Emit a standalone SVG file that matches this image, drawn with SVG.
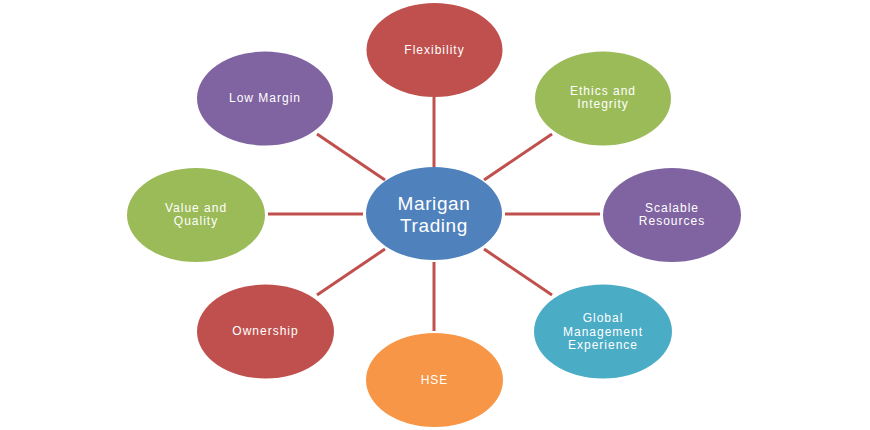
<svg xmlns="http://www.w3.org/2000/svg" width="870" height="430" viewBox="0 0 870 430">
<style>
.bg{fill:#ffffff}
.conn line{stroke:#C0504D;stroke-width:3}
.n text{fill:#ffffff;font-family:"Liberation Sans",Arial,sans-serif;font-size:12px;letter-spacing:1px;text-anchor:middle}
.c text{font-size:19px;letter-spacing:0.6px}
.red{fill:#C0504D}.green{fill:#9BBB59}.purple{fill:#8064A2}.blue{fill:#4F81BD}.cyan{fill:#4BACC6}.orange{fill:#F79646}
</style>
<rect class="bg" x="0" y="0" width="870" height="430"/>
<g id="connectors" class="conn">
<line x1="434" y1="97" x2="434" y2="167"/>
<line x1="484" y1="180" x2="552" y2="134"/>
<line x1="505" y1="214" x2="600" y2="214"/>
<line x1="484" y1="249" x2="552" y2="295"/>
<line x1="434" y1="262" x2="434" y2="331"/>
<line x1="385" y1="249" x2="317" y2="295"/>
<line x1="268" y1="214" x2="363" y2="214"/>
<line x1="385" y1="180" x2="317" y2="134"/>
</g>
<g id="center" class="n c">
<ellipse class="blue" cx="434" cy="213.5" rx="68" ry="46.5"/>
<text x="434" y="210">Marigan</text>
<text x="434" y="232">Trading</text>
</g>
<g id="flexibility" class="n">
<ellipse class="red" cx="434.5" cy="50" rx="68" ry="47"/>
<text x="434.5" y="54">Flexibility</text>
</g>
<g id="ethics" class="n">
<ellipse class="green" cx="603" cy="98.5" rx="68" ry="47"/>
<text x="603" y="95">Ethics and</text>
<text x="603" y="108">Integrity</text>
</g>
<g id="scalable" class="n">
<ellipse class="purple" cx="672" cy="215" rx="69" ry="47"/>
<text x="672" y="212">Scalable</text>
<text x="672" y="225">Resources</text>
</g>
<g id="global" class="n">
<ellipse class="cyan" cx="603" cy="331.5" rx="69" ry="47"/>
<text x="603" y="322">Global</text>
<text x="603" y="335.5">Management</text>
<text x="603" y="349">Experience</text>
</g>
<g id="hse" class="n">
<ellipse class="orange" cx="434.5" cy="380" rx="68.5" ry="47"/>
<text x="434.5" y="384">HSE</text>
</g>
<g id="ownership" class="n">
<ellipse class="red" cx="265.5" cy="331.5" rx="68.5" ry="47"/>
<text x="265.5" y="335">Ownership</text>
</g>
<g id="value" class="n">
<ellipse class="green" cx="196" cy="215" rx="69" ry="47"/>
<text x="196" y="212">Value and</text>
<text x="196" y="225">Quality</text>
</g>
<g id="lowmargin" class="n">
<ellipse class="purple" cx="265" cy="98.5" rx="68" ry="47"/>
<text x="265" y="102">Low Margin</text>
</g>
</svg>
